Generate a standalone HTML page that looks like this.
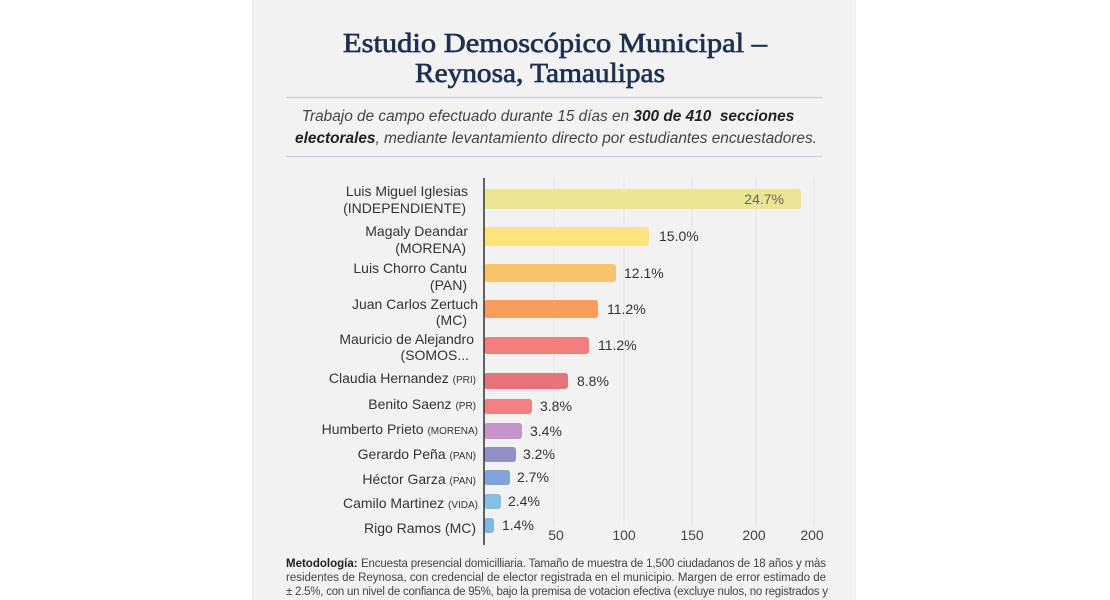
<!DOCTYPE html>
<html><head><meta charset="utf-8"><style>
html,body{margin:0;padding:0;background:#fff;}
svg{display:block;}
</style></head><body>
<svg width="1110" height="600" viewBox="0 0 1110 600" xmlns="http://www.w3.org/2000/svg" font-family="'Liberation Sans', sans-serif">
<rect x="0" y="0" width="1110" height="600" fill="#ffffff"/>
<rect x="252" y="0" width="604" height="600" fill="#ededee"/>
<rect x="253" y="0" width="602" height="600" fill="#f3f2f3"/>

<!-- Title -->
<text x="343" y="52" font-family="'Liberation Serif', serif" font-size="27.5" fill="#1e3050" stroke="#1e3050" stroke-width="0.7" textLength="424" lengthAdjust="spacingAndGlyphs">Estudio Demoscópico Municipal –</text>
<text x="415" y="82" font-family="'Liberation Serif', serif" font-size="27.5" fill="#1e3050" stroke="#1e3050" stroke-width="0.7" textLength="250" lengthAdjust="spacingAndGlyphs">Reynosa, Tamaulipas</text>

<line x1="286" y1="97.5" x2="822" y2="97.5" stroke="#c9ccd5" stroke-width="1.2"/>

<!-- Subtitle -->
<text x="548" y="121" text-anchor="middle" font-style="italic" font-size="15.4" fill="#444">Trabajo de campo efectuado durante 15 días en <tspan font-weight="bold" fill="#222">300 de 410&#160; secciones</tspan></text>
<text x="556" y="143" text-anchor="middle" font-style="italic" font-size="15.4" fill="#444"><tspan font-weight="bold" fill="#222">electorales</tspan>, mediante levantamiento directo por estudiantes encuestadores.</text>

<line x1="286" y1="156.5" x2="822" y2="156.5" stroke="#c9ccd5" stroke-width="1.2"/>

<!-- Gridlines -->
<g stroke="#e1e0e4" stroke-width="1">
<line x1="554" y1="178" x2="554" y2="526"/>
<line x1="624" y1="178" x2="624" y2="526"/>
<line x1="692" y1="178" x2="692" y2="526"/>
<line x1="756" y1="178" x2="756" y2="526"/>
<line x1="814" y1="178" x2="814" y2="526"/>
</g>

<!-- Bars -->
<g>
<rect x="484" y="189" width="317" height="20" rx="3" fill="#ebe595"/>
<rect x="484" y="227" width="165" height="19" rx="3" fill="#fde47e"/>
<rect x="484" y="264" width="132" height="18" rx="3" fill="#f9c56b"/>
<rect x="484" y="300" width="114" height="18" rx="3" fill="#f99c5f"/>
<rect x="484" y="337" width="105" height="17" rx="3" fill="#ef7e7c"/>
<rect x="484" y="373" width="84" height="16" rx="3" fill="#e6727a"/>
<rect x="484" y="399" width="48" height="15" rx="3" fill="#f48084"/>
<rect x="484" y="423" width="38" height="16" rx="3" fill="#c595c9"/>
<rect x="484" y="447" width="32" height="15" rx="3" fill="#9090c6"/>
<rect x="484" y="470" width="26" height="15" rx="3" fill="#80a4d8"/>
<rect x="484" y="494" width="17" height="15" rx="3" fill="#86bfe2"/>
<rect x="484" y="518" width="10" height="15" rx="3" fill="#7db8e0"/>
</g>

<!-- Axis -->
<line x1="484" y1="178" x2="484" y2="545" stroke="#333" stroke-width="1.5"/>

<!-- Value labels -->
<g font-size="14" fill="#333">
<text x="784" y="204" text-anchor="end" fill="#666">24.7%</text>
<text x="659" y="241">15.0%</text>
<text x="624" y="278">12.1%</text>
<text x="607" y="314">11.2%</text>
<text x="598" y="350">11.2%</text>
<text x="577" y="386">8.8%</text>
<text x="540" y="411">3.8%</text>
<text x="530" y="436">3.4%</text>
<text x="523" y="459">3.2%</text>
<text x="517" y="482">2.7%</text>
<text x="508" y="506">2.4%</text>
<text x="502" y="530">1.4%</text>
</g>

<!-- Tick labels -->
<g font-size="14" fill="#444" text-anchor="middle">
<text x="556" y="540">50</text>
<text x="624" y="540">100</text>
<text x="692" y="540">150</text>
<text x="754" y="540">200</text>
<text x="812" y="540">200</text>
</g>

<!-- Category labels -->
<g font-size="14" fill="#333" text-anchor="end">
<text x="468" y="196">Luis Miguel Iglesias</text>
<text x="466" y="213">(INDEPENDIENTE)</text>
<text x="468" y="236">Magaly Deandar</text>
<text x="466" y="253">(MORENA)</text>
<text x="467" y="273">Luis Chorro Cantu</text>
<text x="467" y="290">(PAN)</text>
<text x="478" y="309">Juan Carlos Zertuch</text>
<text x="467" y="325">(MC)</text>
<text x="474" y="344">Mauricio de Alejandro</text>
<text x="469" y="360">(SOMOS...</text>
<text x="476" y="383">Claudia Hernandez <tspan font-size="10">(PRI)</tspan></text>
<text x="476" y="409">Benito Saenz <tspan font-size="10">(PR)</tspan></text>
<text x="478" y="434">Humberto Prieto <tspan font-size="10">(MORENA)</tspan></text>
<text x="476" y="459">Gerardo Peña <tspan font-size="10">(PAN)</tspan></text>
<text x="476" y="484">Héctor Garza <tspan font-size="10">(PAN)</tspan></text>
<text x="478" y="508">Camilo Martinez <tspan font-size="10">(VIDA)</tspan></text>
<text x="476" y="533">Rigo Ramos (MC)</text>
</g>

<!-- Methodology -->
<g font-size="11.5" fill="#444">
<text x="286" y="567" font-weight="bold" fill="#222">Metodología:</text>
<text x="361" y="567" textLength="465" lengthAdjust="spacing">Encuesta presencial domicilliaria. Tamaño de muestra de 1,500 ciudadanos de 18 años y màs</text>
<text x="286" y="581" textLength="540" lengthAdjust="spacing">residentes de Reynosa, con credencial de elector registrada en el municipio. Margen de error estimado de</text>
<text x="286" y="595" textLength="542" lengthAdjust="spacing">± 2.5%, con un nivel de confianca de 95%, bajo la premisa de votacion efectiva (excluye nulos, no registrados y</text>
</g>
</svg>
</body></html>
